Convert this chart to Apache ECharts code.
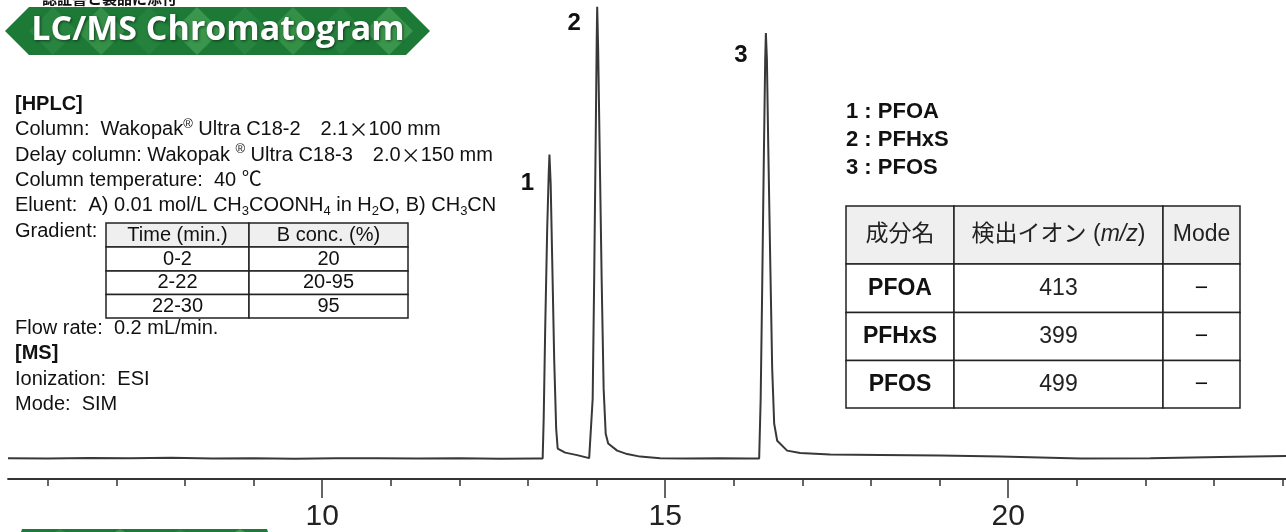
<!DOCTYPE html>
<html><head><meta charset="utf-8">
<script src="https://cdn.jsdelivr.net/npm/echarts@6/dist/echarts.min.js"></script>
<style>html,body{margin:0;padding:0;background:#fff}#c{width:1286px;height:532px}</style>
</head><body><div id="c"></div>
<script>
// ---- data ----
const traceTime = [5.42, 6.0, 6.6, 7.2, 7.8, 8.4, 9.0, 9.6, 10.2, 10.8, 11.4, 12.0, 12.6, 13.1,
  13.214, 13.229, 13.251, 13.280, 13.302, 13.313, 13.331, 13.353, 13.382, 13.411, 13.433, 13.542, 13.717, 13.892,
  13.921, 13.943, 13.965, 13.987, 14.002, 14.009, 14.023, 14.045, 14.074, 14.103, 14.133, 14.169, 14.300, 14.446, 14.636, 14.927,
  15.3, 15.8, 16.2,
  16.370, 16.392, 16.414, 16.436, 16.458, 16.468, 16.483, 16.501, 16.531, 16.560, 16.589, 16.633, 16.778, 16.968, 17.405, 18.134, 19.009, 19.884, 21.05, 22.07, 23.09, 24.05];
const traceSignal = [0.1, 0.0, 0.15, 0.05, 0.2, 0.0, 0.1, -0.05, 0.05, 0.1, 0.0, 0.05, -0.05, 0.0,
  0.0, 8.7, 28.3, 50.0, 62.0, 66.3, 59.8, 43.5, 21.7, 6.5, 2.2, 1.3, 0.76, 0.1,
  0.0, 13.0, 39.1, 69.6, 91.3, 98.5, 89.2, 67.4, 39.1, 15.2, 5.4, 3.3, 1.74, 0.98, 0.43, 0.1,
  0.0, 0.05, 0.0,
  0.0, 13.0, 37.0, 63.1, 87.0, 92.8, 87.0, 69.6, 43.5, 19.6, 7.6, 3.9, 1.74, 1.2, 0.87, 0.76, 0.65, 0.43, 0.0, 0.1, 0.33, 0.54];
const peakNames = ['1', '2', '3'];
const peakTime = [13.313, 14.009, 16.468];
const peakSignal = [66.3, 98.5, 92.8];
const minorTickValues = [6, 7, 8, 9, 10, 11, 12, 13, 14, 15, 16, 17, 18, 19, 20, 21, 22, 23, 24];
const majorTickValues = [10, 15, 20];
const legendLines = ['1 : PFOA', '2 : PFHxS', '3 : PFOS'];
const ionHeader = ['成分名', '検出イオン ({it|m/z})', 'Mode'];
const ionCompound = ['PFOA', 'PFHxS', 'PFOS'];
const ionMz = ['413', '399', '499'];
const ionMode = ['−', '−', '−'];
const gradientHeader = ['Time (min.)', 'B conc. (%)'];
const gradientTime = ['0-2', '2-22', '22-30'];
const gradientB = ['20', '20-95', '95'];
const conditionsTop = ['{b|[HPLC]}',
  'Column:  Wakopak{sup|®} Ultra C18-2\u30002.1{x|×}100 mm',
  'Delay column: Wakopak {sup|®} Ultra C18-3\u30002.0{x|×}150 mm',
  'Column temperature:  40 ℃',
  'Eluent:  A) 0.01 mol/L CH{sub|3}COONH{sub|4} in H{sub|2}O, B) CH{sub|3}CN',
  'Gradient:'];
const conditionsBottom = ['Flow rate:  0.2 mL/min.', '{b|[MS]}', 'Ionization:  ESI', 'Mode:  SIM'];
const bannerTitle = 'LC/MS Chromatogram';
const topCutText = '認証書と製品に添付';

// ---- layout / style ----
const FONT = 'Liberation Sans, Arial, Noto Sans CJK JP, sans-serif';
const richStyles = {
  b: {fontWeight: 'bold', fontSize: 20, fontFamily: FONT, fill: '#111'},
  sup: {fontSize: 13, verticalAlign: 'top', lineHeight: 14, fontFamily: FONT},
  sub: {fontSize: 13, verticalAlign: 'bottom', lineHeight: 14, fontFamily: FONT},
  x: {fontSize: 20, fontFamily: 'Noto Sans CJK JP, sans-serif'},
  it: {fontStyle: 'italic', fontSize: 23, fontFamily: FONT}
};
const peakLabelOffset = [[-22, 29], [-23, 16], [-25, 22]];

const G = [];
function txt(x, y, text, opts) {
  const o = Object.assign({fontSize: 20, fontFamily: FONT, fill: '#111', align: 'left', fontWeight: 'normal'}, opts || {});
  G.push({type: 'text', x: x, y: y, z: 50, style: {
    text: text, fontSize: o.fontSize, fontFamily: o.fontFamily, fontWeight: o.fontWeight, fontStyle: o.fontStyle || 'normal',
    fill: o.fill, align: o.align, textAlign: o.align, verticalAlign: 'middle', textVerticalAlign: 'middle',
    lineHeight: o.lineHeight || 24, rich: o.rich || richStyles,
    textShadowColor: o.shadow || 'transparent', textShadowBlur: o.shadow ? 3 : 0, textShadowOffsetX: o.shadow ? 1 : 0, textShadowOffsetY: o.shadow ? 1 : 0
  }});
}
function cell(x, y, w, h, fill) {
  G.push({type: 'rect', z: 40, shape: {x: x, y: y, width: w, height: h}, style: {fill: fill, stroke: '#222', lineWidth: 1.5}});
}

// top cut-off text
G.push({type: 'text', x: 42, y: 6, z: 50, style: {text: topCutText, fontSize: 15, fontWeight: 'bold', fontFamily: 'Noto Sans CJK JP', fill: '#111', verticalAlign: 'bottom', textVerticalAlign: 'bottom'}});

// banner
G.push({type: 'polygon', z: 30, shape: {points: [[5, 31], [29, 7], [406, 7], [430, 31], [406, 55], [29, 55]]}, style: {fill: '#1c7a36'}});
const diamondFills = ['#2c8842', '#3b964c', '#288440', '#429d52'];
let k = 0;
for (let cx = 53; cx <= 390; cx += 48) {
  G.push({type: 'polygon', z: 31, shape: {points: [[cx, 7], [cx + 24, 31], [cx, 55], [cx - 24, 31]]}, style: {fill: diamondFills[k % 4], opacity: 0.8}});
  k++;
}
txt(218, 30, bannerTitle, {fontSize: 34, fontWeight: 'bold', fontFamily: 'Open Sans, Noto Sans, sans-serif', fill: '#ffffff', align: 'center', shadow: 'rgba(0,0,0,0.55)', lineHeight: 40});

// bottom-left banner (cut off)
G.push({type: 'polygon', z: 30, shape: {points: [[17, 545], [22, 529], [267, 529], [272, 545]]}, style: {fill: '#1c7a36'}});
[60, 120, 180, 240].forEach(function (cx, i) {
  G.push({type: 'polygon', z: 31, shape: {points: [[cx, 529], [cx + 14, 537], [cx, 545], [cx - 14, 537]]}, style: {fill: diamondFills[i % 4]}});
});

// left conditions
const topY = [104, 129.5, 155, 180, 205.5, 231.5];
conditionsTop.forEach(function (s, i) { txt(15, topY[i], s); });
const botY = [328, 353.5, 379, 404.5];
conditionsBottom.forEach(function (s, i) { txt(15, botY[i], s); });

// gradient table
const gCols = [106, 249, 408];
const gRows = [223, 247, 271, 294.5, 318];
for (let c = 0; c < 2; c++) {
  cell(gCols[c], gRows[0], gCols[c + 1] - gCols[c], gRows[1] - gRows[0], '#efefef');
  txt((gCols[c] + gCols[c + 1]) / 2, (gRows[0] + gRows[1]) / 2, gradientHeader[c], {align: 'center'});
}
for (let r = 0; r < 3; r++) {
  const y0 = gRows[r + 1], y1 = gRows[r + 2];
  cell(gCols[0], y0, gCols[1] - gCols[0], y1 - y0, '#fff');
  cell(gCols[1], y0, gCols[2] - gCols[1], y1 - y0, '#fff');
  txt((gCols[0] + gCols[1]) / 2, (y0 + y1) / 2, gradientTime[r], {align: 'center'});
  txt((gCols[1] + gCols[2]) / 2, (y0 + y1) / 2, gradientB[r], {align: 'center'});
}

// legend
const legY = [112, 140, 168];
legendLines.forEach(function (s, i) { txt(846, legY[i], s, {fontSize: 22, fontWeight: 'bold'}); });

// ion table
const iCols = [846, 954, 1163, 1240];
const iRows = [206, 264, 312.5, 360.5, 408];
for (let c = 0; c < 3; c++) {
  cell(iCols[c], iRows[0], iCols[c + 1] - iCols[c], iRows[1] - iRows[0], '#efefef');
  txt((iCols[c] + iCols[c + 1]) / 2, (iRows[0] + iRows[1]) / 2, ionHeader[c], {align: 'center', fontSize: 23, fill: '#222', fontFamily: 'Liberation Sans, Noto Sans CJK JP, sans-serif'});
}
for (let r = 0; r < 3; r++) {
  const y0 = iRows[r + 1], y1 = iRows[r + 2], cy = (y0 + y1) / 2;
  for (let c = 0; c < 3; c++) cell(iCols[c], y0, iCols[c + 1] - iCols[c], y1 - y0, '#fff');
  txt((iCols[0] + iCols[1]) / 2, cy, ionCompound[r], {align: 'center', fontSize: 23, fontWeight: 'bold'});
  txt((iCols[1] + iCols[2]) / 2, cy, ionMz[r], {align: 'center', fontSize: 23, fill: '#222'});
  txt((iCols[2] + iCols[3]) / 2, cy, ionMode[r], {align: 'center', fontSize: 23});
}

const chart = echarts.init(document.getElementById('c'), null, {renderer: 'canvas'});
const gridBox = {left: 8, right: 0, top: 0, bottom: 51};
const xRange = {min: 5.42, max: 24.05};
chart.setOption({
  backgroundColor: '#ffffff',
  animation: false,
  grid: [Object.assign({}, gridBox), Object.assign({}, gridBox)],
  xAxis: [
    {type: 'value', gridIndex: 0, min: xRange.min, max: xRange.max, splitLine: {show: false},
      axisLine: {show: true, onZero: false, lineStyle: {color: '#333', width: 1.8}},
      axisTick: {show: true, customValues: minorTickValues, length: 7, lineStyle: {color: '#333', width: 1.5}},
      axisLabel: {show: true, customValues: majorTickValues, margin: 23, fontSize: 30, color: '#222', fontFamily: 'Liberation Sans, Arial, sans-serif'}},
    {type: 'value', gridIndex: 1, min: xRange.min, max: xRange.max, splitLine: {show: false},
      axisLine: {show: false, onZero: false},
      axisTick: {show: true, customValues: majorTickValues, length: 17, lineStyle: {color: '#333', width: 1.5}},
      axisLabel: {show: false}}
  ],
  yAxis: [
    {type: 'value', gridIndex: 0, min: -4.45, max: 100, show: false},
    {type: 'value', gridIndex: 1, min: -4.45, max: 100, show: false}
  ],
  series: [{
    type: 'line', xAxisIndex: 0, yAxisIndex: 0, showSymbol: false, smooth: false,
    lineStyle: {color: '#383838', width: 2},
    data: traceTime.map(function (t, i) { return [t, traceSignal[i]]; }),
    markPoint: {
      symbol: 'circle', symbolSize: 1, itemStyle: {color: 'rgba(0,0,0,0)'},
      label: {show: true, position: 'inside', formatter: '{b}', fontSize: 24, fontWeight: 'bold', color: '#111', fontFamily: 'Liberation Sans, Arial, sans-serif'},
      data: peakNames.map(function (n, i) {
        return {name: n, coord: [peakTime[i], peakSignal[i]], label: {offset: peakLabelOffset[i]}};
      })
    }
  }],
  graphic: G
});
</script></body></html>
